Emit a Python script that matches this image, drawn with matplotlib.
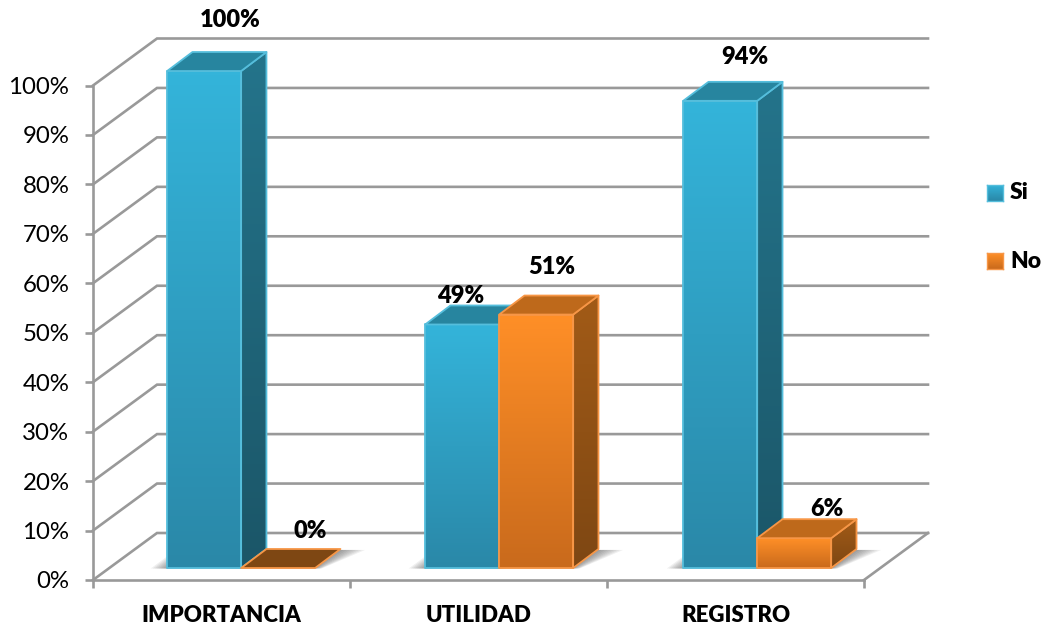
import numpy as np
import matplotlib
matplotlib.use("Agg")
import matplotlib.pyplot as plt
from matplotlib.colors import LinearSegmentedColormap
from matplotlib.patches import Polygon

categories = ["IMPORTANCIA", "UTILIDAD", "REGISTRO"]
series_names = ["Si", "No"]
si_values = [100, 49, 94]
no_values = [0, 51, 6]
y_ticks = [0, 10, 20, 30, 40, 50, 60, 70, 80, 90, 100]

W, H = 1048, 629
plt.rcParams['font.family'] = ['Lato', 'DejaVu Sans']

fig = plt.figure(figsize=(W / 100, H / 100), dpi=100, facecolor='white')
# plot box is the front plane of the 3d look
ax = fig.add_axes([93 / W, 1 - 580 / H, (864 - 93) / W, (580 - 85.5) / H])
ax.set_xlim(0, 3)
ax.set_ylim(0, 100)
ax.patch.set_alpha(0)

px_x = 257.0            # pixels for one category
px_y = 4.945            # pixels for one percent
wall_dx = 64 / px_x     # depth of the back wall
wall_dy = 47 / px_y
bar_dx = 25.3 / px_x    # depth of the bars
bar_dy = 19 / px_y
lift = 12 / px_y        # bars stand a bit behind the front edge
bar_w = 74 / px_x
bar_start = 0.2885
bar_step = 1.004
bar_scale = 1.005

GRID = '#999999'
LW = 1.9
for sp in ['top', 'right']:
    ax.spines[sp].set_visible(False)
for sp in ['left', 'bottom']:
    ax.spines[sp].set_color(GRID)
    ax.spines[sp].set_linewidth(LW)

ax.set_yticks(y_ticks)
ax.set_yticklabels([str(v) + '%' for v in y_ticks], fontsize=17.3, color='black')
ax.tick_params(axis='y', length=6, width=LW, color=GRID, pad=11)
ax.set_xticks([0, 1, 2, 3])
ax.set_xticklabels([])
ax.tick_params(axis='x', which='major', length=6, width=LW, color=GRID)
ax.set_xticks([0.5, 1.5, 2.5], minor=True)
ax.set_xticklabels(categories, minor=True, fontsize=16, fontweight='heavy')
ax.tick_params(axis='x', which='minor', length=0, pad=18)

# paredes
for v in y_ticks:
    ax.plot([0, wall_dx, 3 + wall_dx], [v, v + wall_dy, v + wall_dy], color=GRID,
            lw=LW, clip_on=False, zorder=1, solid_joinstyle='miter')
ax.plot([3, 3 + wall_dx], [0, wall_dy], color=GRID, lw=LW, clip_on=False, zorder=1)


def gradient(c_top, c_bottom, xs, ys, edge, z):
    poly = Polygon(list(zip(xs, ys)), closed=True, fc='none', ec=edge, lw=1.3,
                   clip_on=False, zorder=z + 0.1, joinstyle='round')
    cmap = LinearSegmentedColormap.from_list('g', [c_bottom, c_top])
    im = ax.imshow(np.linspace(0, 1, 128).reshape(-1, 1), cmap=cmap, origin='lower',
                   extent=[min(xs), max(xs), min(ys), max(ys)], aspect='auto',
                   zorder=z, interpolation='bilinear')
    ax.add_patch(poly)
    im.set_clip_box(fig.bbox)
    im.set_clip_path(poly)


def flat(color, xs, ys, edge, z):
    ax.add_patch(Polygon(list(zip(xs, ys)), closed=True, fc=color, ec=edge, lw=1.3,
                         clip_on=False, zorder=z, joinstyle='round'))


def bar(x, v, z, front, side, top, edge):
    h = lift + v * bar_scale
    if v > 0:
        gradient(front[0], front[1], [x, x + bar_w, x + bar_w, x], [lift, lift, h, h], edge, z)
        gradient(side[0], side[1], [x + bar_w, x + bar_w + bar_dx, x + bar_w + bar_dx, x + bar_w],
                 [lift, lift + bar_dy, h + bar_dy, h], edge, z)
    else:
        top = side[1]
    flat(top, [x, x + bar_w, x + bar_w + bar_dx, x + bar_dx], [h, h, h + bar_dy, h + bar_dy], edge, z + 0.2)


def shadow(x, z):
    # sombra suave sobre el piso
    for n in range(1, 9):
        e = n * 0.008
        ax.add_patch(Polygon([(x - e, lift - 0.1), (x + bar_w + e * 0.4, lift - 0.1),
                              (x + bar_w + bar_dx + e * 1.5, lift + bar_dy * 0.95),
                              (x + bar_dx - e, lift + bar_dy * 0.95)],
                             closed=True, fc='#404040', ec='none', alpha=0.08,
                             clip_on=False, zorder=z))


BLUE = dict(front=('#34B4DA', '#2A88A8'), side=('#24748B', '#1B5668'), top='#27859F', edge='#55BEDC')
ORANGE = dict(front=('#FF8F27', '#C96A1C'), side=('#A25B17', '#7E4713'), top='#BE691B', edge='#F79646')

label_off = [[(26, 51), (32, 37)], [(-2, 28), (16, 48)], [(25, 44), (33, 29)]]

for i in range(3):
    x0 = i * bar_step + bar_start
    x1 = x0 + bar_w
    shadow(x0, 2)
    shadow(x1, 2)
    bar(x0, si_values[i], 3 + i, **BLUE)
    bar(x1, no_values[i], 3.5 + i, **ORANGE)
    for x, v, off in zip([x0, x1], [si_values[i], no_values[i]], label_off[i]):
        ax.annotate(str(v) + '%', (x + bar_w / 2, lift + v * bar_scale),
                    xytext=(off[0] * 0.72, off[1] * 0.72), textcoords='offset points',
                    ha='center', va='center', fontsize=17, fontweight='heavy',
                    color='black', zorder=10, annotation_clip=False)

# leyenda
for name, st, y in zip(series_names, [BLUE, ORANGE], [184.5, 253]):
    lax = fig.add_axes([987 / W, 1 - (y + 16) / H, 16 / W, 16 / H])
    cmap = LinearSegmentedColormap.from_list('l', [st['front'][1], st['front'][0]])
    lax.imshow(np.linspace(0, 1, 32).reshape(-1, 1), cmap=cmap, origin='lower', aspect='auto')
    lax.set_xticks([])
    lax.set_yticks([])
    for sp in lax.spines.values():
        sp.set_color(st['edge'])
        sp.set_linewidth(1)
    fig.text(1010 / W, 1 - (y + 8) / H, name, fontsize=16.5, fontweight='heavy', va='center', ha='left')

fig.savefig('out.png', dpi=100, facecolor='white')
